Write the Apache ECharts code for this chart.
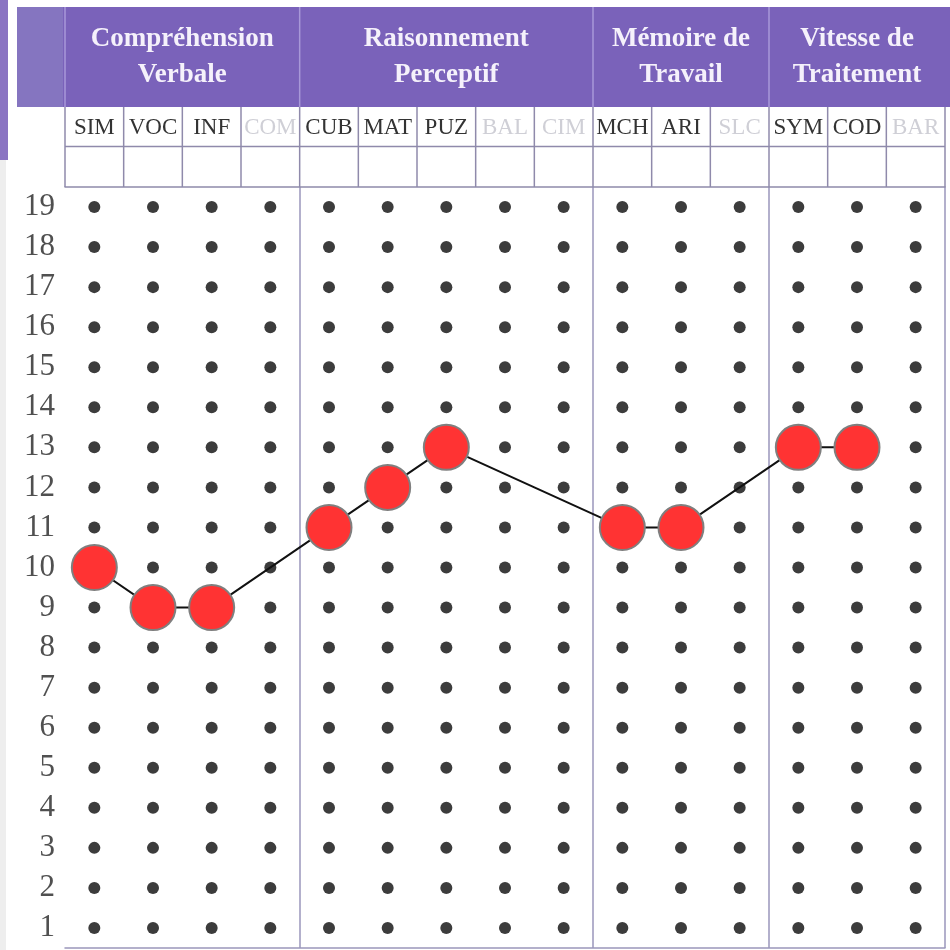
<!DOCTYPE html>
<html>
<head>
<meta charset="utf-8">
<script src="https://cdn.jsdelivr.net/npm/echarts@6/dist/echarts.min.js"></script>
<style>
html,body{margin:0;padding:0;background:#fff;}
#c{width:950px;height:950px;}
</style>
</head>
<body>
<div id="c"></div>
<script>
// ---- data ----
const subtests = ['SIM','VOC','INF','COM','CUB','MAT','PUZ','BAL','CIM','MCH','ARI','SLC','SYM','COD','BAR'];
const optionalTests = ['COM','BAL','CIM','SLC','BAR'];
const groupNames = ['Compréhension\nVerbale','Raisonnement\nPerceptif','Mémoire de\nTravail','Vitesse de\nTraitement'];
const groupSizes = [4,5,3,3];
const scores = [10,9,9,null,11,12,13,null,null,11,11,null,13,13,null];
const levels = [1,2,3,4,5,6,7,8,9,10,11,12,13,14,15,16,17,18,19];

// ---- layout ----
const W = 950;
const gridLeft = 65, gridRight = 5, gridTop = 187, gridBottom = 2;
const band = (W - gridLeft - gridRight) / subtests.length;
const purple = '#7a62ba';
const lineCol = '#8f8aab';

const boundaries = [];
let acc = 0;
groupSizes.forEach(s => { acc += s; boundaries.push(acc); });

const dotData = [];
subtests.forEach(s => levels.forEach(l => dotData.push([s, l])));

const graphics = [];
// scan edge strip
graphics.push({type:'rect', shape:{x:0,y:0,width:8,height:160}, style:{fill:'#8a74c2'}, z:-1});
graphics.push({type:'rect', shape:{x:0,y:160,width:6,height:790}, style:{fill:'#eeeeee'}, z:-1});
// header band
graphics.push({type:'rect', shape:{x:17,y:7,width:W-17,height:100}, style:{fill:purple}});
graphics.push({type:'rect', shape:{x:17,y:7,width:gridLeft-19,height:100}, style:{fill:'#8575c0'}});
let start = 0;
groupSizes.forEach((s, i) => {
  const x0 = gridLeft + start * band;
  const x1 = gridLeft + (start + s) * band;
  graphics.push({type:'line', shape:{x1:x0,y1:7,x2:x0,y2:107}, style:{stroke:'#a898d8', lineWidth:1.5}});
  graphics.push({type:'text', x:(x0+x1)/2, y:57, style:{text:groupNames[i], fill:'#f5f1fb', font:'bold 27px "Liberation Serif"', textAlign:'center', textVerticalAlign:'middle', lineHeight:36}});
  start += s;
});
// table rows
graphics.push({type:'line', shape:{x1:gridLeft,y1:146.5,x2:W-gridRight,y2:146.5}, style:{stroke:lineCol, lineWidth:1.5}});
for (let i = 0; i <= subtests.length; i++) {
  const x = gridLeft + i * band;
  graphics.push({type:'line', shape:{x1:x,y1:107,x2:x,y2:gridTop}, style:{stroke:lineCol, lineWidth:1.5}});
}

const option = {
  backgroundColor: '#ffffff',
  animation: false,
  grid: {left: gridLeft, right: gridRight, top: gridTop, bottom: gridBottom, containLabel: false},
  xAxis: [{
    type: 'category',
    position: 'top',
    data: subtests.map(s => ({value: s, textStyle: {color: optionalTests.includes(s) ? '#cfcfd6' : '#333333'}})),
    boundaryGap: true,
    axisLine: {show: true, lineStyle: {color: lineCol, width: 1.5}},
    axisTick: {show: false},
    axisLabel: {show: true, margin: 48, fontFamily: 'Liberation Serif', fontSize: 23, interval: 0},
    splitLine: {show: true, interval: (idx) => boundaries.slice(0, 3).includes(idx), lineStyle: {color: '#9a96bb', width: 1.5}}
  }, {
    type: 'category',
    position: 'bottom',
    data: subtests,
    axisLine: {show: true, lineStyle: {color: '#9a96bb', width: 1.5}},
    axisTick: {show: false},
    axisLabel: {show: false},
    splitLine: {show: false}
  }],
  yAxis: {
    type: 'value',
    min: 0.5,
    max: 19.5,
    axisLine: {show: false},
    axisTick: {show: false},
    splitLine: {show: false},
    axisLabel: {
      show: true,
      customValues: levels,
      margin: 10,
      fontFamily: 'Liberation Serif',
      fontSize: 31,
      color: '#505050'
    }
  },
  series: [{
    type: 'scatter',
    data: dotData,
    symbol: 'circle',
    symbolSize: 12,
    itemStyle: {color: '#3c3c3c', opacity: 1},
    z: 2,
    silent: true
  }, {
    type: 'line',
    data: scores,
    connectNulls: true,
    symbol: 'circle',
    symbolSize: 45,
    showAllSymbol: true,
    lineStyle: {color: '#111111', width: 2},
    itemStyle: {color: '#ff3333', borderColor: '#7f7f7f', borderWidth: 2, opacity: 1},
    z: 3,
    silent: true
  }],
  graphic: graphics
};

const chart = echarts.init(document.getElementById('c'), null, {renderer: 'canvas'});
chart.setOption(option);
</script>
</body>
</html>
